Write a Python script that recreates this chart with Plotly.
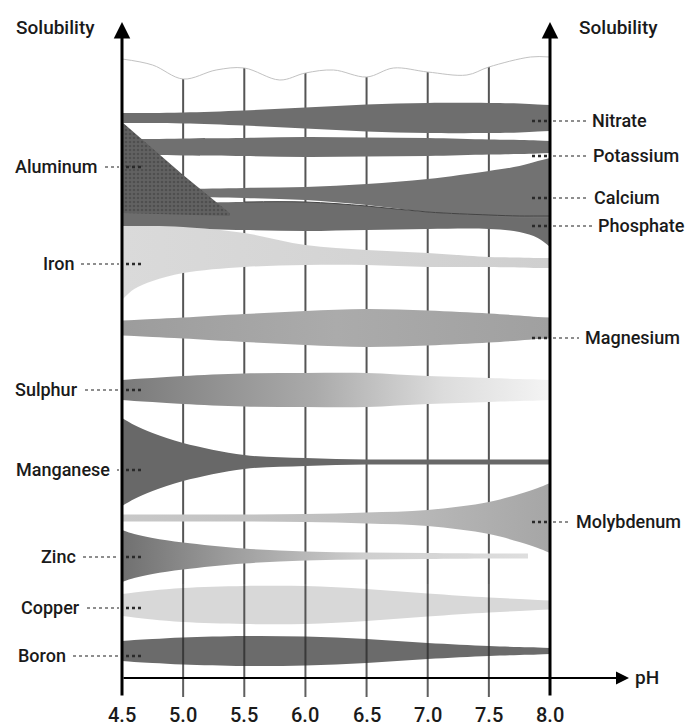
import plotly.graph_objects as go

# ---------------- data ----------------
ph = [4.5, 4.6, 4.75, 5.0, 5.5, 6.0, 6.5, 7.0, 7.5, 7.75, 7.9, 8.0]
tick_ph = [4.5, 5.0, 5.5, 6.0, 6.5, 7.0, 7.5, 8.0]
tick_labels = ["4.5", "5.0", "5.5", "6.0", "6.5", "7.0", "7.5", "8.0"]

# relative solubility (band half-thickness above / below each nutrient's row)
nitrate = [5, 5, 5, 5.5, 7.5, 10.5, 13.5, 15, 15, 14.5, 13.5, 13]
potassium = [8, 8, 8, 8.5, 9, 10, 9.5, 9, 7.5, 7, 6.5, 6]
calcium_up = [3, 3, 3.5, 4, 5, 6, 9, 14, 22, 27, 32, 35]
calcium_dn = [3, 3, 3.5, 4, 5, 7, 12, 19, 23, 25, 25, 25]
phosphate_up = [11, 11, 12, 13, 14, 14, 10, 4, 1, 0, 0, 0]
phosphate_dn = [12, 12, 12, 13, 14, 15, 14, 13, 13, 16, 22, 31]
aluminum_ph = [4.5, 5.0, 5.38]
aluminum_up = [91, 38, 0]
aluminum_dn = [0, 2, 3]
iron_up = [36, 36, 36, 35, 29, 17, 12, 9, 5, 4.5, 4, 4]
iron_dn = [38, 27, 19, 11, 5, 3, 3, 5, 5, 5.5, 6, 6]
magnesium = [7.5, 8, 9, 10.5, 14, 17, 19, 17.5, 14.5, 12.5, 11, 10.5]
sulphur = [10, 11, 12, 14, 16.5, 17, 17, 14, 12, 11, 10.5, 10]
manganese = [44, 37, 29, 19, 7, 4, 2.5, 2.5, 2.5, 2.5, 2.5, 2.5]
molybdenum = [3.5, 3.5, 3.5, 3.5, 3.5, 4, 5.5, 8, 16, 24, 30, 35]
zinc_ph = [4.5, 4.6, 4.75, 5.0, 5.5, 6.0, 6.5, 7.0, 7.5, 7.82]
zinc = [26, 22, 18, 13.5, 7.5, 4.5, 3.5, 3, 2.5, 2.5]
copper = [11, 12.5, 14.5, 17, 19, 19, 16, 11.5, 7.5, 6, 5, 4.5]
boron = [10, 11, 12, 13.5, 15, 14.5, 12, 8, 5, 4, 3.5, 3]

# row (vertical position) of each nutrient on the solubility scale
rows = {"Nitrate": 118, "Potassium": 147, "Calcium": 193, "Phosphate": 216,
        "Aluminum": 213, "Iron": 262, "Magnesium": 328, "Sulphur": 390,
        "Manganese": 462, "Molybdenum": 518, "Zinc": 556, "Copper": 605,
        "Boron": 651}

# decorative wavy top edge of the grid
wave_ph = [4.5, 4.75, 5.0, 5.27, 5.5, 5.79, 6.0, 6.23, 6.5, 6.72, 7.0, 7.32, 7.5, 7.84, 8.0]
wave_y = [59, 65, 79, 70, 68, 80, 73, 70, 77, 68, 72, 75, 67, 57, 57]

# ---------------- layout helpers ----------------
W, H = 686, 728
X0, X1 = 122, 550
K = (X1 - X0) / (8.0 - 4.5)
xr = [4.5 - X0 / K, 8.0 + (W - X1) / K]
FONT = "Roboto, Inter, sans-serif"
TXT = "#1a1a1a"
WEIGHT = 500

fig = go.Figure()


def band(name, x, up, dn, shape="spline", **fillkw):
    c = rows[name]
    top = [c - u for u in up]
    bot = [c + d for d in dn]
    fig.add_trace(go.Scatter(x=x, y=top, mode="lines", line=dict(width=0, shape=shape),
                             hoverinfo="skip", showlegend=False))
    fig.add_trace(go.Scatter(x=x, y=bot, mode="lines", line=dict(width=0, shape=shape),
                             fill="tonexty", name=name, showlegend=False, **fillkw))


def hgrad(stops):
    return dict(type="horizontal", colorscale=stops)


band("Nitrate", ph, nitrate, nitrate, fillcolor="#6e6e6e")
band("Potassium", ph, potassium, potassium, fillcolor="#707070")
band("Phosphate", ph, phosphate_up, phosphate_dn, fillcolor="#6d6d6d")
band("Calcium", ph, calcium_up, calcium_dn, fillcolor="#727272")
# boundary line between calcium and phosphate
fig.add_trace(go.Scatter(x=ph[4:], y=[rows["Phosphate"] - u for u in phosphate_up[4:]],
                         mode="lines", line=dict(color="#444444", width=1, shape="spline"),
                         hoverinfo="skip", showlegend=False))
band("Aluminum", aluminum_ph, aluminum_up, aluminum_dn, shape="linear",
     fillcolor="#5c5c5c",
     fillpattern=dict(shape=".", fgcolor="#3c3c3c", bgcolor="#626262", size=4, solidity=0.35))
band("Iron", ph, iron_up, iron_dn,
     fillgradient=hgrad([[0, "#dadada"], [1, "#cfcfcf"]]))
band("Magnesium", ph, magnesium, magnesium,
     fillgradient=hgrad([[0, "#9c9c9c"], [0.5, "#ababab"], [1, "#a0a0a0"]]))
band("Sulphur", ph, sulphur, sulphur,
     fillgradient=hgrad([[0, "#7a7a7a"], [0.45, "#aaaaaa"], [0.75, "#dcdcdc"], [1, "#f4f4f4"]]))
band("Manganese", ph, manganese, manganese, fillcolor="#686868")
band("Molybdenum", ph, molybdenum, molybdenum,
     fillgradient=hgrad([[0, "#c8c8c8"], [0.6, "#bdbdbd"], [1, "#a6a6a6"]]))
band("Zinc", zinc_ph, zinc, zinc,
     fillgradient=hgrad([[0, "#707070"], [0.25, "#9a9a9a"], [0.6, "#cfcfcf"], [1, "#dedede"]]))
band("Copper", ph, copper, copper, fillcolor="#d8d8d8")
band("Boron", ph, boron, boron, fillcolor="#6b6b6b")

# wavy top line
fig.add_trace(go.Scatter(x=wave_ph, y=wave_y, mode="lines",
                         line=dict(color="#c2c2c2", width=1, shape="spline"),
                         hoverinfo="skip", showlegend=False))

shapes = []
wave_at = dict(zip(wave_ph, wave_y))
GRID_SPLIT = 584   # below this row the grid shows through the lower bands
AX_BOTTOM = 697
for p in tick_ph[1:-1]:
    shapes.append(dict(type="line", xref="x", yref="y", x0=p, x1=p, y0=wave_at[p], y1=GRID_SPLIT,
                       line=dict(color="#555555", width=2), layer="below"))
    shapes.append(dict(type="line", xref="x", yref="y", x0=p, x1=p, y0=GRID_SPLIT, y1=AX_BOTTOM,
                       line=dict(color="rgba(40,40,40,0.75)", width=2), layer="above"))

annotations = []
for p in (4.5, 8.0):
    annotations.append(dict(x=p, y=22, ax=p, ay=AX_BOTTOM, xref="x", yref="y", axref="x", ayref="y",
                            text="", showarrow=True, arrowhead=2, arrowsize=1.1, arrowwidth=3,
                            arrowcolor="#000000", standoff=0))
# pH axis
annotations.append(dict(x=4.5 + (629 - X0) / K, y=678, ax=4.5, ay=678, xref="x", yref="y",
                        axref="x", ayref="y", text="", showarrow=True, arrowhead=2, arrowsize=1.3,
                        arrowwidth=2, arrowcolor="#000000", standoff=0))

# tick labels
for p, t in zip(tick_ph, tick_labels):
    annotations.append(dict(x=p, y=715, xref="x", yref="y", text=t, showarrow=False,
                            font=dict(family=FONT, size=20, color=TXT, weight=WEIGHT),
                            xanchor="center", yanchor="middle"))


def px(v):
    return v / W


# left labels: (name, text right end px, y)
left_labels = [("Aluminum", 100, 166), ("Iron", 76, 263), ("Sulphur", 80, 389),
               ("Manganese", 112, 469), ("Zinc", 78, 556), ("Copper", 82, 607),
               ("Boron", 68, 655)]
for name, xe, y in left_labels:
    annotations.append(dict(x=px(xe), y=y, xref="paper", yref="y", text=name, showarrow=False,
                            font=dict(family=FONT, size=18, color=TXT, weight=WEIGHT),
                            xanchor="right", yanchor="middle"))
    if xe + 5 < 119:
        shapes.append(dict(type="line", xref="paper", yref="y", x0=px(xe + 5), x1=px(119), y0=y + 1, y1=y + 1,
                           line=dict(color="#6a6a6a", width=1.5, dash="dot")))
    shapes.append(dict(type="line", xref="paper", yref="y", x0=px(126), x1=px(141), y0=y + 1, y1=y + 1,
                       line=dict(color="#2a2a2a", width=2.5, dash="dot")))

# right labels: (name, text left start px, y)
right_labels = [("Nitrate", 590, 120), ("Potassium", 591, 155), ("Calcium", 592, 197),
                ("Phosphate", 596, 225), ("Magnesium", 583, 337), ("Molybdenum", 574, 521)]
for name, xs, y in right_labels:
    annotations.append(dict(x=px(xs), y=y, xref="paper", yref="y", text=name, showarrow=False,
                            font=dict(family=FONT, size=18, color=TXT, weight=WEIGHT),
                            xanchor="left", yanchor="middle"))
    shapes.append(dict(type="line", xref="paper", yref="y", x0=px(553), x1=px(xs - 4), y0=y + 1, y1=y + 1,
                       line=dict(color="#6a6a6a", width=1.5, dash="dot")))
    shapes.append(dict(type="line", xref="paper", yref="y", x0=px(532), x1=px(548), y0=y + 1, y1=y + 1,
                       line=dict(color="#2a2a2a", width=2.5, dash="dot")))

# axis titles
for xc in (55, 618):
    annotations.append(dict(x=px(xc), y=27, xref="paper", yref="y", text="Solubility", showarrow=False,
                            font=dict(family=FONT, size=19, color=TXT, weight=WEIGHT),
                            xanchor="center", yanchor="middle"))
annotations.append(dict(x=px(633), y=677, xref="paper", yref="y", text="pH", showarrow=False,
                        font=dict(family=FONT, size=19, color=TXT, weight=WEIGHT),
                        xanchor="left", yanchor="middle"))

fig.update_layout(
    width=W, height=H, margin=dict(l=0, r=0, t=0, b=0),
    paper_bgcolor="white", plot_bgcolor="white",
    xaxis=dict(range=xr, visible=False, fixedrange=True),
    yaxis=dict(range=[H, 0], visible=False, fixedrange=True),
    shapes=shapes, annotations=annotations, showlegend=False,
)

fig.write_html("out.html", config={"displayModeBar": False, "staticPlot": True},
               post_script="document.body.style.margin='0';document.body.style.overflow='hidden';")
